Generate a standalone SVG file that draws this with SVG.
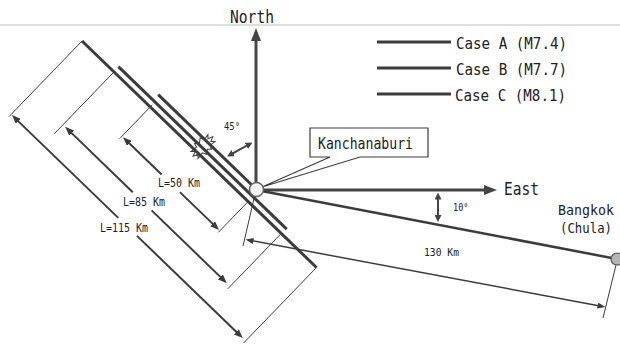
<svg xmlns="http://www.w3.org/2000/svg" width="620" height="346" viewBox="0 0 620 346">
  <style>
    .t { font-family: "DejaVu Sans Mono", "Liberation Mono", monospace; fill: #222; }
    .fault { stroke: #3c3c3c; stroke-width: 3; fill: none; }
    .ext { stroke: #3c3c3c; stroke-width: 1; fill: none; }
    .dim { stroke: #3c3c3c; stroke-width: 2; fill: none; }
    .axis { stroke: #444; stroke-width: 3; fill: none; }
    .thin { stroke: #3c3c3c; stroke-width: 1.5; fill: none; }
  </style>
  <defs>
    <marker id="aBig" markerUnits="userSpaceOnUse" markerWidth="13" markerHeight="10" refX="2" refY="5" orient="auto">
      <path d="M0,0 L13,5 L0,10 z" fill="#444"/>
    </marker>
    <marker id="aDim" markerUnits="userSpaceOnUse" markerWidth="9" markerHeight="7" refX="1" refY="3.5" orient="auto">
      <path d="M0,0 L9,3.5 L0,7 z" fill="#3c3c3c"/>
    </marker>
    <marker id="aSm" markerUnits="userSpaceOnUse" markerWidth="8" markerHeight="6" refX="1" refY="3" orient="auto-start-reverse">
      <path d="M0,0 L8,3 L0,6 z" fill="#3c3c3c"/>
    </marker>
    <marker id="aDbl" markerUnits="userSpaceOnUse" markerWidth="7" markerHeight="7" refX="1" refY="3.5" orient="auto-start-reverse">
      <path d="M0,0 L7,3.5 L0,7 z" fill="#444"/>
    </marker>
  </defs>
  <rect width="620" height="346" fill="#fff"/>
  <line x1="0" y1="25" x2="620" y2="25" stroke="#d4d4d4" stroke-width="1.5"/>

  <g id="legend">
    <line x1="377" y1="42" x2="451" y2="42" class="fault"/>
    <line x1="377" y1="68" x2="451" y2="68" class="fault"/>
    <line x1="377" y1="94" x2="451" y2="94" class="fault"/>
    <text class="t" x="456" y="49" font-size="16" textLength="111" lengthAdjust="spacingAndGlyphs">Case A (M7.4)</text>
    <text class="t" x="456" y="75" font-size="16" textLength="111" lengthAdjust="spacingAndGlyphs">Case B (M7.7)</text>
    <text class="t" x="455" y="101" font-size="16" textLength="111" lengthAdjust="spacingAndGlyphs">Case C (M8.1)</text>
  </g>

  <g id="epicenter">
    <polygon transform="translate(203,146.5) rotate(-45)" fill="#fff" stroke="#3c3c3c" stroke-width="1"
      points="14,0 9,2 12,5 6,4 4,8 1,5 -3,8 -5,4 -12,5 -9,2 -14,0 -9,-2 -12,-5 -5,-4 -4,-8 0,-5 4,-8 6,-4 12,-5 9,-2"/>
  </g>

  <g id="connectors">
    <line class="fault" x1="82" y1="41" x2="316.5" y2="267.5"/>
    <line class="fault" x1="118.4" y1="66.7" x2="286.7" y2="229.2"/>
    <line class="fault" x1="158.2" y1="94.6" x2="256.7" y2="189.7"/>
    <line class="ext" x1="9.1" y1="116.5" x2="82" y2="41"/>
    <line class="ext" x1="243.6" y1="343" x2="316.5" y2="267.5"/>
    <line class="ext" x1="54.3" y1="133.8" x2="114" y2="71.9"/>
    <line class="ext" x1="227.8" y1="288.8" x2="281.3" y2="233.4"/>
    <line class="ext" x1="119.7" y1="138.6" x2="152.3" y2="104.8"/>
    <line class="ext" x1="218.3" y1="232.4" x2="248.2" y2="201.5"/>
    <line class="dim" x1="118.3" y1="217.9" x2="17.6" y2="120.6" marker-end="url(#aDim)"/>
    <line class="dim" x1="137" y1="235.9" x2="237" y2="332.5" marker-end="url(#aDim)"/>
    <line class="dim" x1="132.8" y1="192.2" x2="70.9" y2="132.4" marker-end="url(#aDim)"/>
    <line class="dim" x1="151.6" y1="210.4" x2="221.1" y2="277.6" marker-end="url(#aDim)"/>
    <line class="dim" x1="161.6" y1="174.5" x2="128.7" y2="142.7" marker-end="url(#aDim)"/>
    <line class="dim" x1="179.9" y1="192.1" x2="213.3" y2="224.4" marker-end="url(#aDim)"/>
    <line class="axis" x1="256" y1="183" x2="256" y2="39" marker-end="url(#aBig)"/>
    <line class="axis" x1="263" y1="190" x2="486" y2="190" marker-end="url(#aBig)"/>
    <line x1="256.5" y1="190" x2="617" y2="259" stroke="#3c3c3c" stroke-width="2.5"/>
    <line class="ext" x1="254.5" y1="196.5" x2="243" y2="246"/>
    <line class="ext" x1="616" y1="265" x2="603" y2="318"/>
    <line class="thin" x1="252.4" y1="240.8" x2="598.6" y2="305.7" marker-start="url(#aSm)" marker-end="url(#aSm)"/>
    <line x1="232.3" y1="153.6" x2="247.2" y2="145.4" stroke="#444" stroke-width="2" marker-start="url(#aDbl)" marker-end="url(#aDbl)"/>
    <line x1="438" y1="198.5" x2="438" y2="216" stroke="#444" stroke-width="2" marker-start="url(#aDbl)" marker-end="url(#aDbl)"/>
  </g>

  <g id="kanchanaburi">
    <path d="M310,128 H428 V157 H360 L262,187 L330,157 H310 Z" fill="#fff" stroke="#3c3c3c" stroke-width="1.2"/>
    <circle cx="256.5" cy="189.5" r="7" fill="#f3f3f3" stroke="#666" stroke-width="1.5"/>
    <text class="t" x="318" y="148.5" font-size="16" textLength="95" lengthAdjust="spacingAndGlyphs">Kanchanaburi</text>
  </g>

  <g id="bangkok">
    <circle cx="617" cy="259" r="6" fill="#b4b4b4" stroke="#555" stroke-width="1.2"/>
    <text class="t" x="558" y="215" font-size="14" textLength="56" lengthAdjust="spacingAndGlyphs">Bangkok</text>
    <text class="t" x="560" y="232.5" font-size="14" textLength="52" lengthAdjust="spacingAndGlyphs">(Chula)</text>
  </g>

  <g id="labels">
    <text class="t" x="230" y="22.5" font-size="17" textLength="44" lengthAdjust="spacingAndGlyphs">North</text>
    <text class="t" x="504" y="195" font-size="17" textLength="35" lengthAdjust="spacingAndGlyphs">East</text>
    <text class="t" x="224" y="130" font-size="11" textLength="16" lengthAdjust="spacingAndGlyphs">45°</text>
    <text class="t" x="453" y="211" font-size="11" textLength="15.5" lengthAdjust="spacingAndGlyphs">10°</text>
    <text class="t" x="424" y="256" font-size="11" textLength="35" lengthAdjust="spacingAndGlyphs">130 Km</text>
    <text class="t" x="158" y="187.3" font-size="12" textLength="42" lengthAdjust="spacingAndGlyphs">L=50 Km</text>
    <text class="t" x="123" y="205.7" font-size="12" textLength="42" lengthAdjust="spacingAndGlyphs">L=85 Km</text>
    <text class="t" x="100" y="232.3" font-size="12" textLength="48" lengthAdjust="spacingAndGlyphs">L=115 Km</text>
  </g>
</svg>
